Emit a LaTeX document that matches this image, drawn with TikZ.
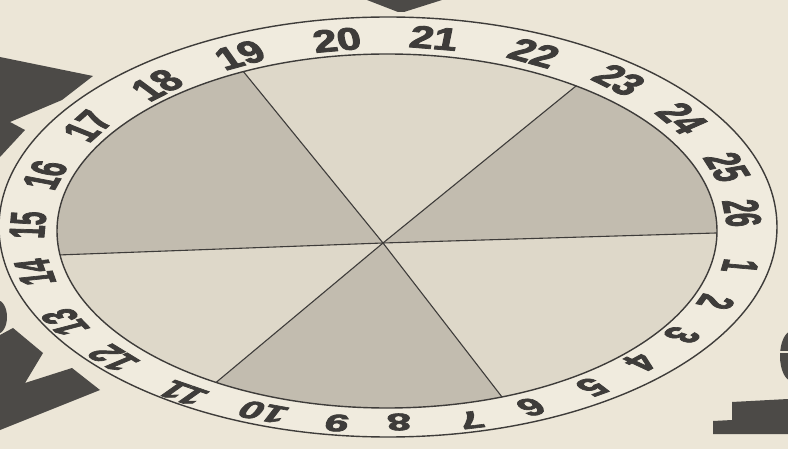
\documentclass[tikz,border=0pt]{standalone}
\usepackage{fontspec}
\usetikzlibrary{calc}
\newfontfamily\numfont[FakeStretch=0.86, FakeBold=2.5]{Liberation Sans Bold}
\definecolor{paper}{RGB}{236,230,215}
\definecolor{ringc}{RGB}{240,235,222}
\definecolor{lightsec}{RGB}{222,216,201}
\definecolor{darksec}{RGB}{194,188,175}
\definecolor{ink}{RGB}{62,60,58}
\begin{document}
\begin{tikzpicture}[x=1pt,y=1pt,
  blot/.style={fill=ink!92!paper},
  rim/.style={draw=ink, line width=1.4pt},
  divider/.style={draw=ink, line width=1.1pt},
  darkwedge/.style={fill=darksec},
  num/.style={font=\numfont\fontsize{50}{50}\selectfont, text=ink, inner sep=0pt, anchor=center}
]
\useasboundingbox (0,0) rectangle (788,-449);
\fill[paper] (0,0) rectangle (788,-449);
% background letter fragments
\fill[blot] (367,0) -- (398,-12) -- (404,-12) -- (442,0) -- cycle;
\fill[blot] (0,-57) -- (93,-76) -- (62,-100) -- (10,-122) -- (25,-130) -- (0,-157) -- cycle;
\fill[blot] (0,-335) -- (13,-328) -- (43,-353) -- (25,-383) -- (72,-368) -- (100,-390) -- (0,-430) -- cycle;
\fill[blot] (-3,-317) ellipse [x radius=10, y radius=17];
\fill[blot] (713,-421) -- (732,-420) -- (732,-402) -- (788,-399) -- (788,-434) -- (713,-434) -- cycle;
\fill[blot] (792,-356) ellipse [x radius=12, y radius=25];
\draw[paper, line width=1.2pt] (778,-352) -- (788,-352);
% outer ring
\path[rim, fill=ringc] (388,-227) ellipse [x radius=389, y radius=210];
% inner disc and sectors
\coordinate (c) at (383,-243);
\coordinate (tl) at (247,-76);
\coordinate (tr) at (576,-86);
\coordinate (l) at (58,-255);
\coordinate (r) at (716,-233);
\coordinate (bl) at (213,-385);
\coordinate (br) at (502,-397);
\fill[lightsec] (387,-231) ellipse [x radius=330, y radius=177];
\begin{scope}
  \clip (387,-231) ellipse [x radius=330, y radius=177];
  \fill[darkwedge] (c) -- ($(c)!3!(tl)$) -- ($(c)!3!(l)$) -- cycle;
  \fill[darkwedge] (c) -- ($(c)!3!(tr)$) -- ($(c)!3!(r)$) -- cycle;
  \fill[darkwedge] (c) -- ($(c)!3!(bl)$) -- ($(c)!3!(br)$) -- cycle;
  \draw[divider] (c) -- ($(c)!1.15!(tl)$);
  \draw[divider] (c) -- ($(c)!1.15!(tr)$);
  \draw[divider] (c) -- ($(c)!1.15!(l)$);
  \draw[divider] (c) -- ($(c)!1.15!(r)$);
  \draw[divider] (c) -- ($(c)!1.15!(bl)$);
  \draw[divider] (c) -- ($(c)!1.15!(br)$);
\end{scope}
\draw[rim] (387,-231) ellipse [x radius=330, y radius=177];
% numbers
\foreach \n/\px/\py/\a in {1/740/266/-9.2, 2/716/302/-20.7, 3/682/335/-32.1, 4/641/362/-42.8,
  5/592/387/-53.9, 6/531/407/-65.7, 7/471/420/-76.2, 8/399/422/-88, 9/337/423/-98.2,
  10/263/412/-110.7, 11/183/393/-124.9, 12/113/358/-140.3, 13/65/322/-153.4, 14/35/272/-169,
  15/28/225/177, 16/45/175/162, 17/88/126/146, 18/157/85/129.6, 19/240/55/113.8,
  20/337/40/97.9, 21/434/38/82.7, 22/534/53/66.4, 23/619/80/51, 24/682/118/36.3,
  25/727/167/20.3, 26/742/213/6.5}
{
  \pgfmathsetmacro\sq{0.555+0.075*sin(\a)}
  \pgfmathsetmacro\rt{\a-90}
  \begin{scope}[shift={(\px,-\py)}, yscale=\sq]
    \node[num, rotate=\rt, transform shape] (n\n) at (0,0) {\n};
  \end{scope}
}
\end{tikzpicture}
\end{document}
